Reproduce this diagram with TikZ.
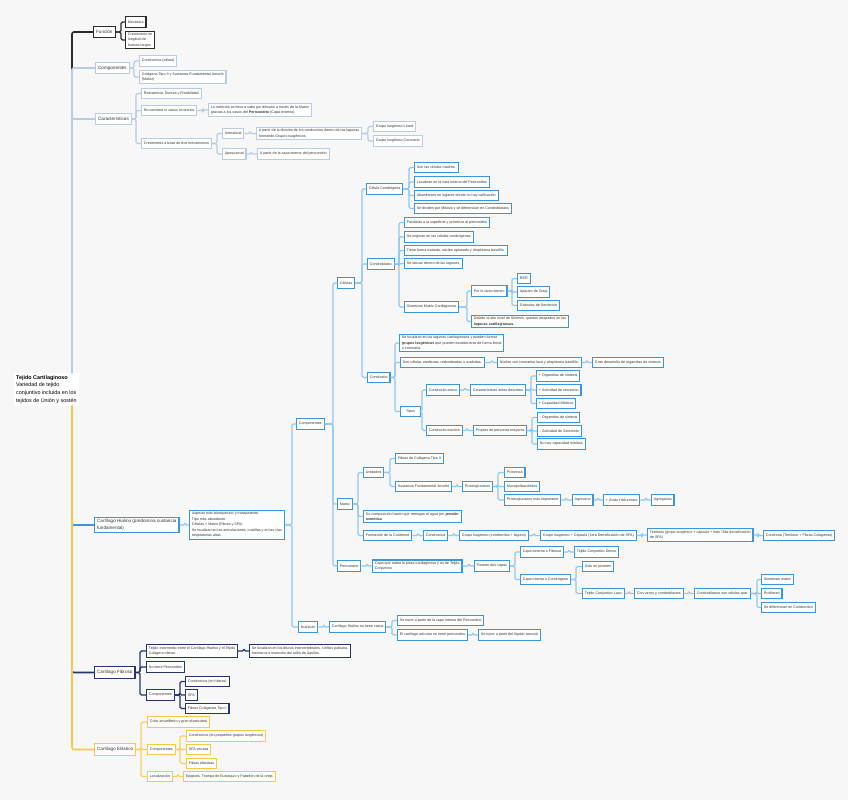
\documentclass[tikz,border=0pt]{standalone}
\usepackage{fontspec}
\setmainfont{Liberation Sans}
\definecolor{bgc}{HTML}{F7F7F7}
\definecolor{txt}{HTML}{333333}
\definecolor{fnc}{HTML}{2B2B2B}
\definecolor{cpc}{HTML}{B9CBE2}
\definecolor{hyc}{HTML}{3A95DF}
\definecolor{hyl}{HTML}{93C8F0}
\definecolor{fbc}{HTML}{26366D}
\definecolor{elc}{HTML}{F5C845}
\definecolor{ell}{HTML}{F7D062}
\tikzset{
  base/.style={draw, fill=white, anchor=west, text=txt, font=\fontsize{3.65}{5.5}\selectfont,
    inner xsep=2.4pt, inner ysep=1.6pt, minimum height=10.5pt, line width=1.1pt, align=left},
  lone/.style={font=\fontsize{4.6}{6.6}\selectfont, minimum height=11.5pt, inner xsep=2.6pt},
  fn/.style={base, draw=fnc},
  cp/.style={base, draw=cpc},
  hy/.style={base, draw=hyc},
  fb/.style={base, draw=fbc},
  el/.style={base, draw=elc},
  cfn/.style={draw=fnc, line width=1.1pt, rounded corners=1.5pt},
  ccp/.style={draw=cpc, line width=1.1pt, rounded corners=1.5pt},
  chy/.style={draw=hyl, line width=1.1pt, rounded corners=1.5pt},
  cfb/.style={draw=fbc, line width=1.1pt, rounded corners=1.5pt},
  cel/.style={draw=ell, line width=1.1pt, rounded corners=1.5pt},
}
\newcommand\cn[4][]{\path (#3,0) coordinate (tmpbar); \draw[#1] (#2.east) -- (#2.east -| tmpbar) |- (#4.west);}
\begin{document}
\begin{tikzpicture}[x=1pt,y=-1pt]
\fill[bgc] (0,0) rectangle (848,800);
\useasboundingbox (0,0) rectangle (848,800);

% ---------- root
\node[fill=white, anchor=north west, text=black, font=\fontsize{5.4}{7.8}\selectfont, align=left, inner xsep=2pt, inner ysep=2pt] (root) at (14,373)
 {\textbf{Tejido Cartilaginoso}\\Variedad de tejido\\conjuntivo incluida en los\\tejidos de Unión y sostén};

% ---------- top section nodes
\node[fn,lone] (fun) at (93,32) {Función};
\node[fn] (mec) at (125,22) {Mecánica};
\node[fn] (cre) at (125,40) {Crecimiento en\\longitud de\\huesos largos};
\node[cp,lone] (comp) at (95,68) {Componentes};
\node[cp] (cel1) at (139,61) {Condrocitos (célula)};
\node[cp] (col1) at (139,77) {Colágena Tipo II y Sustancia Fundamental Amorfa\\(Matriz)};
\node[cp,lone] (car) at (95,119) {Características};
\node[cp] (res) at (141,93.5) {Resistencia, Dureza y Flexibilidad};
\node[cp] (nocon) at (141,110.5) {No contiene ni vasos ni nervios};
\node[cp] (nut1) at (208,110) {La nutrición se lleva a cabo por difusión a través de la Matriz\\gracias a los vasos del \textbf{Pericondrio} (Capa externa)};
\node[cp] (creci) at (141,143.5) {Crecimiento a base de dos mecanismos};
\node[cp] (inter) at (222,133.5) {Intersticial};
\node[cp] (apos) at (222,154) {Aposicional};
\node[cp] (apart1) at (256,133.5) {A partir de la división de los condrocitos dentro de las lagunas\\formando Grupos Isogénicos};
\node[cp] (apart2) at (257,154) {A partir de la capa interna del pericondrio};
\node[cp] (gil) at (373,126.5) {Grupo Isogénico Lineal};
\node[cp] (gic) at (373,141) {Grupo Isogénico Coronario};

\cn[cfn]{fun}{121}{mec}
\cn[cfn]{fun}{121}{cre}
\cn[ccp]{comp}{134}{cel1}
\cn[ccp]{comp}{134}{col1}
\cn[ccp]{car}{136}{res}
\cn[ccp]{car}{136}{nocon}
\cn[ccp]{car}{136}{creci}
\cn[ccp]{nocon}{203}{nut1}
\cn[ccp]{creci}{217}{inter}
\cn[ccp]{creci}{217}{apos}
\cn[ccp]{inter}{250}{apart1}
\cn[ccp]{apos}{251}{apart2}
\cn[ccp]{apart1}{368}{gil}
\cn[ccp]{apart1}{368}{gic}

% ---------- Hialino
\node[hy,lone] (hia) at (94,525) {Cartílago Hialino (predomina sustancia\\fundamental)};
\node[hy] (hdesc) at (189,525) {Aspecto más blanquecino y transparente.\\Tipo más abundante.\\Células + Matriz (Fibras y SFA)\\Se localizan en las articulaciones, costillas y en las vías\\respiratorias altas.};
\node[hy] (hcomp) at (296,424) {Componentes};
\node[hy] (hnut) at (298,627) {Nutrición};
\node[hy] (celu) at (337,283) {Células};
\node[hy] (matr) at (337,504) {Matriz};
\node[hy] (peri) at (337,566) {Pericondrio};
\node[hy] (ccond) at (366,189) {Célula Condrógena};
\node[hy] (cblast) at (367,264) {Condroblasto};
\node[hy] (ccito) at (367,377.5) {Condrocito};
\node[hy] (cc1) at (414,167.5) {Son las células madres.};
\node[hy] (cc2) at (414,182) {Localizan en la cara interna del Pericondrio};
\node[hy] (cc3) at (414,195.5) {Abundantes en lugares donde no hay osificación};
\node[hy] (cc4) at (414,208.5) {Se dividen por Mitosis y se diferencian en Condroblastos};
\node[hy] (cb1) at (404,222.5) {Paralelas a la superficie y próximas al pericondrio};
\node[hy] (cb2) at (404,237) {Se originan en las células condrógenas};
\node[hy] (cb3) at (404,250.5) {Tiene forma ovalada, núcleo aplanado y citoplasma basófilo.};
\node[hy] (cb4) at (404,263.5) {Se ubican dentro de las lagunas.};
\node[hy] (cb5) at (404,307) {Sintetizan Matriz Cartilaginosa};
\node[hy] (plt) at (471,291) {Por lo tanto tienen:};
\node[hy] (deb) at (471,321.5) {Debido al alto nivel de Síntesis, quedan atrapados en las\\\textbf{lagunas cartilaginosas}.};
\node[hy] (rer) at (517,278.5) {RER};
\node[hy] (gol) at (517,292) {Aparato de Golgi};
\node[hy] (gra) at (517,305.5) {Gránulos de Secreción};
\node[hy] (ci1) at (399,343) {Se localizan en las lagunas cartilaginosas y pueden formar\\\textbf{grupos Isogénicos} que pueden establecerse de forma lineal\\o coronaria.};
\node[hy] (ci2) at (400,362.5) {Son células medianas, redondeadas u ovaladas.};
\node[hy, minimum width=20pt] (tip) at (400,411.5) {Tipos};
\node[hy] (ci3) at (497,362.5) {Núcleo con cromatina laxa y citoplasma basófilo.};
\node[hy] (ci4) at (592,362.5) {Gran desarrollo de organelas de síntesis};
\node[hy] (cact) at (426,390) {Condrocito activo};
\node[hy] (cina) at (426,430.5) {Condrocito inactivo};
\node[hy] (cad) at (470,390) {Características antes descritas};
\node[hy] (pro) at (473,430.5) {Propias de personas mayores};
\node[hy] (a1) at (536,376) {+ Organelas de síntesis};
\node[hy] (a2) at (536,390) {+ Actividad de secreción};
\node[hy] (a3) at (536,403.5) {+ Capacidad Mitótica};
\node[hy] (i1) at (537,417.5) {- Organelas de síntesis};
\node[hy] (i2) at (537,431) {- Actividad de Secreción};
\node[hy] (i3) at (537,444) {No hay capacidad mitótica};
\node[hy] (uni) at (363,472.5) {Unidades};
\node[hy] (suc) at (363,516.5) {Su composición hacen que retengan el agua por \textbf{presión}\\\textbf{osmótica}};
\node[hy] (form) at (363,535.5) {Formación de la Condrona};
\node[hy] (fib2) at (395,458.5) {Fibras de Colágena Tipo II};
\node[hy] (sfa) at (395,486.5) {Sustancia Fundamental Amorfa};
\node[hy] (prot) at (462,486.5) {Proteoglucanos};
\node[hy] (pr1) at (504,472.5) {Proteínas};
\node[hy] (pr2) at (504,486.5) {Mucopolisacáridos};
\node[hy] (pr3) at (504,500) {Proteoglucanos más importante};
\node[hy] (agr) at (572,500) {Agrecano};
\node[hy] (aci) at (603,500) {+ Ácido Hialurónico};
\node[hy] (agg) at (651,500) {Agregados};
\node[hy] (fc1) at (423,535.5) {Condrocitos};
\node[hy] (fc2) at (459,535.5) {Grupo Isogénico (condrocitos + laguna)};
\node[hy] (fc3) at (540,535.5) {Grupo Isogénico + Cápsula (1era Densificación de SFA)};
\node[hy] (fc4) at (647,535) {Territorio (grupo Isogénico + cápsula + halo "2da densificación\\de SFA)};
\node[hy] (fc5) at (763,535.5) {Condrona (Territorio + Fibras Colágenas)};
\node[hy] (pe1) at (372,566) {Capa que rodea la pieza cartilaginosa y es de Tejido\\Conjuntivo};
\node[hy] (pe2) at (474,566) {Poseen dos capas};
\node[hy] (cext) at (520,552) {Capa externa o Fibrosa};
\node[hy] (tcd) at (574,552) {Tejido Conjuntivo Denso};
\node[hy] (cint) at (520,579.5) {Capa interna o Condrógena};
\node[hy] (sj) at (582,566.5) {Solo en jóvenes};
\node[hy] (tcl) at (582,593.5) {Tejido Conjuntivo Laxo};
\node[hy] (cvc) at (634,593.5) {Con vasos y condroblastos};
\node[hy] (csc) at (694,593.5) {Condroblastos son células que:};
\node[hy] (sm) at (761,579.5) {Sintetizan matriz};
\node[hy] (prol) at (761,593.5) {Proliferan};
\node[hy] (sdc) at (761,607.5) {Se diferencian en Condrocitos};
\node[hy] (nv) at (329,627) {Cartílago Hialino no tiene vasos};
\node[hy] (sn1) at (397,620.5) {Se nutre a partir de la capa interna del Pericondrio};
\node[hy] (eca) at (397,635) {El cartílago articular no tiene pericondrio};
\node[hy] (sn2) at (478,635) {Se nutre a partir del líquido sinovial};

\cn[chy]{hia}{185}{hdesc}
\cn[chy]{hdesc}{292}{hcomp}
\cn[chy]{hdesc}{292}{hnut}
\cn[chy]{hcomp}{333}{celu}
\cn[chy]{hcomp}{333}{matr}
\cn[chy]{hcomp}{333}{peri}
\cn[chy]{celu}{362}{ccond}
\cn[chy]{celu}{362}{cblast}
\cn[chy]{celu}{362}{ccito}
\foreach \c in {cc1,cc2,cc3,cc4}{\cn[chy]{ccond}{409}{\c}}
\foreach \c in {cb1,cb2,cb3,cb4,cb5}{\cn[chy]{cblast}{399}{\c}}
\cn[chy]{cb5}{467}{plt}
\cn[chy]{cb5}{467}{deb}
\foreach \c in {rer,gol,gra}{\cn[chy]{plt}{512}{\c}}
\foreach \c in {ci1,ci2,tip}{\cn[chy]{ccito}{395}{\c}}
\cn[chy]{ci2}{492}{ci3}
\cn[chy]{ci3}{587}{ci4}
\cn[chy]{tip}{422}{cact}
\cn[chy]{tip}{422}{cina}
\cn[chy]{cact}{465}{cad}
\cn[chy]{cina}{467}{pro}
\foreach \c in {a1,a2,a3}{\cn[chy]{cad}{531}{\c}}
\foreach \c in {i1,i2,i3}{\cn[chy]{pro}{532}{\c}}
\foreach \c in {uni,suc,form}{\cn[chy]{matr}{358}{\c}}
\cn[chy]{uni}{390}{fib2}
\cn[chy]{uni}{390}{sfa}
\cn[chy]{sfa}{457}{prot}
\foreach \c in {pr1,pr2,pr3}{\cn[chy]{prot}{498}{\c}}
\cn[chy]{pr3}{566}{agr}
\cn[chy]{agr}{598}{aci}
\cn[chy]{aci}{646}{agg}
\cn[chy]{form}{418}{fc1}
\cn[chy]{fc1}{454}{fc2}
\cn[chy]{fc2}{534}{fc3}
\cn[chy]{fc3}{642}{fc4}
\cn[chy]{fc4}{758}{fc5}
\cn[chy]{peri}{367}{pe1}
\cn[chy]{pe1}{469}{pe2}
\cn[chy]{pe2}{515}{cext}
\cn[chy]{pe2}{515}{cint}
\cn[chy]{cext}{569}{tcd}
\cn[chy]{cint}{576}{sj}
\cn[chy]{cint}{576}{tcl}
\cn[chy]{tcl}{629}{cvc}
\cn[chy]{cvc}{689}{csc}
\foreach \c in {sm,prol,sdc}{\cn[chy]{csc}{757}{\c}}
\cn[chy]{hnut}{324}{nv}
\cn[chy]{nv}{392}{sn1}
\cn[chy]{nv}{392}{eca}
\cn[chy]{eca}{473}{sn2}

% ---------- Fibroso
\node[fb,lone] (fibr) at (94,672.5) {Cartílago Fibroso};
\node[fb] (ti) at (146,651) {Tejido Intermedio entre el Cartílago Hialino y el Tejido\\Colágeno denso};
\node[fb] (sel) at (249,651) {Se localizan en los discos intervertebrales, sínfisis pubiana,\\meniscos e inserción del talón de Aquiles.};
\node[fb] (ntp) at (146,667) {No tiene Pericondrio};
\node[fb] (fcomp) at (146,695) {Componentes};
\node[fb] (fch) at (185,681.5) {Condrocitos (en hileras)};
\node[fb] (fsfa) at (185,695) {SFA};
\node[fb] (fct) at (185,708.5) {Fibras Colágenas Tipo I};
\foreach \c in {ti,ntp,fcomp}{\cn[cfb]{fibr}{140}{\c}}
\cn[cfb]{ti}{244}{sel}
\foreach \c in {fch,fsfa,fct}{\cn[cfb]{fcomp}{180}{\c}}

% ---------- Elastico
\node[el,lone] (elas) at (94,749.5) {Cartílago Elástico};
\node[el] (cam) at (147,722) {Color amarillento y gran elasticidad};
\node[el] (ecomp) at (147,749.5) {Componentes};
\node[el] (loc) at (147,776.5) {Localización};
\node[el] (ec1) at (186,736) {Condrocitos (en pequeños grupos isogénicos)};
\node[el] (sfae) at (186,749.5) {SFA escasa};
\node[el] (fe) at (186,763.5) {Fibras elásticas};
\node[el] (epi) at (183,776.5) {Epiglotis, Trompa de Eustaquio y Pabellón de la oreja};
\foreach \c in {cam,ecomp,loc}{\cn[cel]{elas}{141}{\c}}
\foreach \c in {ec1,sfae,fe}{\cn[cel]{ecomp}{180}{\c}}
\cn[cel]{loc}{178}{epi}

% ---------- trunk
\coordinate (tk) at (72,0);
\draw[fnc, line width=1.6pt, rounded corners=2pt] (root.north -| tk) |- (fun.west);
\draw[cpc, line width=1.6pt, rounded corners=2pt] (root.north -| tk) |- (comp.west);
\draw[cpc, line width=1.6pt, rounded corners=2pt] (root.north -| tk) |- (car.west);
\draw[hyc, line width=1.6pt, rounded corners=2pt] (root.south -| tk) |- (hia.west);
\draw[fbc, line width=1.6pt, rounded corners=2pt] (root.south -| tk) |- (fibr.west);
\draw[elc, line width=1.6pt, rounded corners=2pt] (root.south -| tk) |- (elas.west);
\end{tikzpicture}
\end{document}
